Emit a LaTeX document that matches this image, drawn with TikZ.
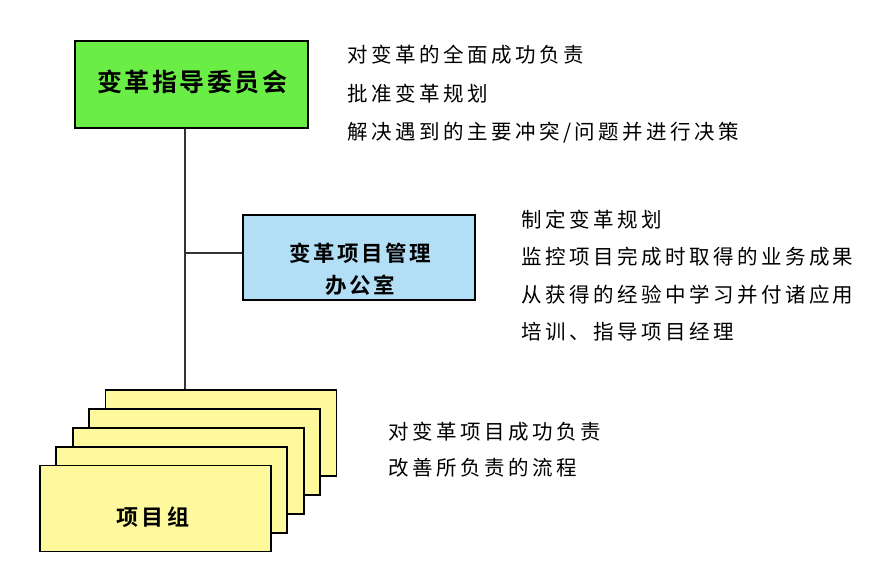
\documentclass[tikz,border=0pt]{standalone}
\usepackage{fontspec}
\newfontfamily\cjk[LetterSpace=17]{Noto Sans CJK SC}
\newfontfamily\cjkbA[LetterSpace=10]{Noto Sans CJK SC Bold}
\newfontfamily\cjkbB[LetterSpace=12]{Noto Sans CJK SC Bold}
\newfontfamily\cjkbC[LetterSpace=14]{Noto Sans CJK SC Bold}
\definecolor{steergreen}{HTML}{6AEE46}
\definecolor{pmoblue}{HTML}{B2DEF6}
\definecolor{teamyellow}{HTML}{FFF99E}
\definecolor{linegray}{HTML}{333333}
\tikzset{
  box/.style={draw=black, line width=1.7pt, inner sep=0pt},
  teambox/.style={box, fill=teamyellow, minimum width=231pt, minimum height=86pt},
  desc/.style={anchor=north west, inner sep=0pt, align=left, text=black},
  conn/.style={draw=linegray, line width=1.8pt}
}
\begin{document}
\begin{tikzpicture}[x=1pt,y=-1pt]
\useasboundingbox (0,0) rectangle (890,580);
% steering committee
\node[box, fill=steergreen, minimum width=233pt, minimum height=87pt] (steer) at (191.5,84.5) {};
\node[inner sep=0pt, font=\cjkbA\fontsize{25}{30}\selectfont] (steertext) at (192,82) {变革指导委员会};
% PMO
\node[box, fill=pmoblue, minimum width=232pt, minimum height=85pt] (pmo) at (359,257.5) {};
\node[inner sep=0pt, align=center, font=\cjkbB\fontsize{21.5}{32}\selectfont] (pmotext) at (360,269) {变革项目管理\\办公室};
% project team stack
\node[teambox] (t1) at (221,433) {};
\node[teambox] (t2) at (204.6,451.9) {};
\node[teambox] (t3) at (188.2,470.8) {};
\node[teambox] (t4) at (171.8,489.7) {};
\node[teambox] (t5) at (155.5,508.6) {};
\node[inner sep=0pt, font=\cjkbC\fontsize{22}{26}\selectfont] (t5text) at (153,517) {项目组};
% connectors
\coordinate (j) at (185,253);
\draw[conn] (steer.south -| j) -- (j |- t1.north);
\draw[conn] (j) -- (pmo.west |- j);
% descriptions
\node[desc, font=\cjk\fontsize{20.5}{38.5}\selectfont] (d1) at (347,45)
  {对变革的全面成功负责\\批准变革规划\\解决遇到的主要冲突/问题并进行决策};
\node[desc, font=\cjk\fontsize{20.5}{37.3}\selectfont] (d2) at (521,210)
  {制定变革规划\\监控项目完成时取得的业务成果\\从获得的经验中学习并付诸应用\\培训、指导项目经理};
\node[desc, font=\cjk\fontsize{20.5}{36}\selectfont] (d3) at (388,422)
  {对变革项目成功负责\\改善所负责的流程};
\end{tikzpicture}
\end{document}
